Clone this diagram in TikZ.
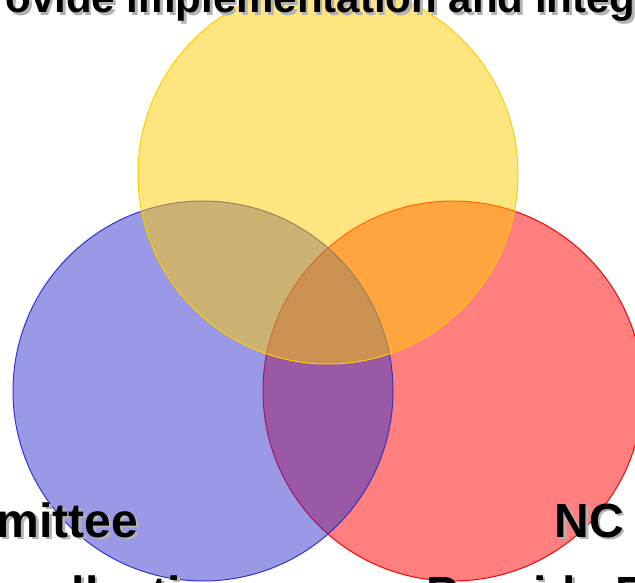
\documentclass[tikz,border=0pt]{standalone}
\usepackage{fontspec}
\setmainfont{Liberation Sans}
\usepackage{tikz}
\usepackage{xcolor}
\usetikzlibrary{positioning}

\definecolor{ringgold}{RGB}{255,204,0}
\definecolor{ringblue}{RGB}{51,51,204}
\definecolor{ringred}{RGB}{255,0,0}

\begin{document}
\begin{tikzpicture}[x=1pt, y=1pt,
    ring/.style={circle, minimum size=380pt, inner sep=0pt, line width=1pt, fill opacity=0.5, draw opacity=1},
    big/.style={inner sep=0pt, font=\bfseries\fontsize{48}{56}\selectfont},
    head/.style={inner sep=0pt, font=\bfseries\fontsize{42}{50}\selectfont}]
                        \useasboundingbox (0, 0) rectangle (635, 582);
                        \clip (0, 0) rectangle (635, 582);
                        % the three rings
                        \node[ring, draw=ringred, fill=ringred] (red) at (453, 191) {};
                        \node[ring, draw=ringblue, fill=ringblue] (blue) at (203, 191) {};
                        \node[ring, draw=ringgold, fill=ringgold] (gold) at (328, 408) {};
                        % labels with their shadow
                        \foreach \clr/\d/\tag in {black!30/2.5/s, black/0/t} {
                            \node[head, text=\clr, anchor=base west] (top-\tag) at (-39 + \d, 569 - \d) {Provide implementation and integration};
                            \node[big, text=\clr, anchor=base east] (left-\tag) at (138.5 + \d, 45 - \d) {Committee};
                            \node[big, text=\clr, anchor=base west] (right-\tag) at (554.5 + \d, 45 - \d) {NC};
                            \node[big, text=\clr, anchor=base west] (left2-\tag) at (15.6 + \d, -28 - \d) {collection};
                            \node[big, text=\clr, anchor=base west] (right2-\tag) at (426.4 + \d, -28 - \d) {Provide Funding};
                        }
                    \end{tikzpicture}
\end{document}
